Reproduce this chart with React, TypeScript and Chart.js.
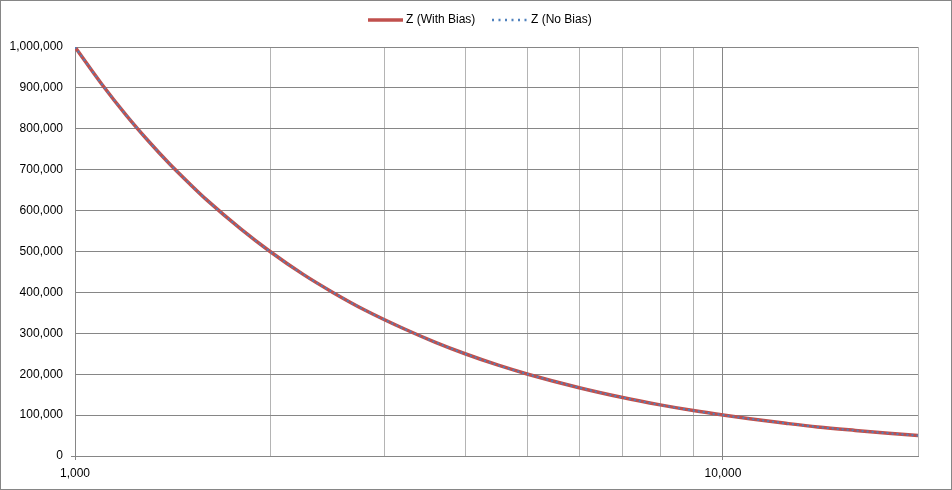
import React, { useEffect, useRef } from "react";
import { Chart, registerables } from "chart.js";

Chart.register(...registerables);

const xValues = [1000, 1100, 1200, 1300, 1400, 1500, 1600, 1800, 2000, 2250, 2500, 2800, 3200, 3600, 4000, 4500, 5000, 6000, 7000, 8000, 9000, 10000, 11000, 12500, 14000, 16000, 18000, 20000];
const withBias = [1000000, 909000, 833000, 769000, 714000, 667000, 625000, 556000, 500000, 444000, 400000, 357000, 313000, 278000, 250000, 222000, 200000, 167000, 143000, 125000, 111000, 100000, 91000, 80000, 71000, 62500, 55600, 50000];
const noBias = [1000000, 909000, 833000, 769000, 714000, 667000, 625000, 556000, 500000, 444000, 400000, 357000, 313000, 278000, 250000, 222000, 200000, 167000, 143000, 125000, 111000, 100000, 91000, 80000, 71000, 62500, 55600, 50000];
const xTickValues = [1000, 2000, 3000, 4000, 5000, 6000, 7000, 8000, 9000, 10000, 20000];
const seriesNames = ["Z (With Bias)", "Z (No Bias)"];
const xMin = 1000;
const xMax = 20000;
const yMin = 0;
const yMax = 1000000;
const yStep = 100000;

const FONT = "'Liberation Sans', Arial, sans-serif";
const RED = "#C0504D";
const BLUE = "#4F81BD";
const GRID_DARK = "#868686";
const GRID_LIGHT = "#B4B4B4";

const isPow10 = (v: number) => {
  const l = Math.log10(v);
  return Math.abs(l - Math.round(l)) < 1e-9;
};

export default function App() {
  const ref = useRef<HTMLCanvasElement | null>(null);

  useEffect(() => {
    if (!ref.current) return;
    const frame = {
      id: "frame",
      beforeDraw(chart: any) {
        const ctx = chart.ctx;
        ctx.save();
        ctx.fillStyle = "#fff";
        ctx.fillRect(0, 0, chart.width, chart.height);
        ctx.restore();
      },
      afterDraw(chart: any) {
        const ctx = chart.ctx;
        ctx.save();
        ctx.strokeStyle = GRID_DARK;
        ctx.lineWidth = 1;
        ctx.strokeRect(0.5, 0.5, chart.width - 1, chart.height - 1);
        // legend
        ctx.font = "12px " + FONT;
        ctx.textBaseline = "middle";
        ctx.fillStyle = "#000";
        const y = 20;
        ctx.lineCap = "butt";
        ctx.strokeStyle = RED;
        ctx.lineWidth = 3.5;
        ctx.beginPath();
        ctx.moveTo(368, y);
        ctx.lineTo(403, y);
        ctx.stroke();
        ctx.fillText(seriesNames[0], 406, y);
        ctx.strokeStyle = BLUE;
        ctx.lineWidth = 2.5;
        ctx.setLineDash([2, 4.5]);
        ctx.beginPath();
        ctx.moveTo(492, y);
        ctx.lineTo(527, y);
        ctx.stroke();
        ctx.setLineDash([]);
        ctx.fillText(seriesNames[1], 531, y);
        ctx.restore();
      },
    };

    const chart = new Chart(ref.current, {
      type: "line",
      data: {
        labels: xValues,
        datasets: [
          {
            label: seriesNames[0],
            data: xValues.map((x, i) => ({ x, y: withBias[i] })),
            borderColor: RED,
            backgroundColor: RED,
            borderWidth: 3.5,
            pointRadius: 0,
            cubicInterpolationMode: "monotone",
            order: 2,
          },
          {
            label: seriesNames[1],
            data: xValues.map((x, i) => ({ x, y: noBias[i] })),
            borderColor: BLUE,
            backgroundColor: BLUE,
            borderWidth: 2,
            borderDash: [2, 3],
            pointRadius: 0,
            cubicInterpolationMode: "monotone",
            order: 1,
          },
        ],
      },
      options: {
        responsive: false,
        animation: false,
        devicePixelRatio: 1,
        layout: { padding: { left: 0, right: 34, top: 47, bottom: 0 } },
        plugins: {
          legend: { display: false },
          tooltip: { enabled: false },
        },
        scales: {
          x: {
            type: "logarithmic",
            min: xMin,
            max: xMax,
            afterBuildTicks: (s: any) => {
              s.ticks = xTickValues.map((v) => ({ value: v, major: isPow10(v) }));
            },
            afterFit: (s: any) => {
              s.height = 34;
            },
            border: { display: true, color: GRID_DARK, width: 1 },
            grid: {
              color: (c: any) => (c.tick && isPow10(c.tick.value) ? GRID_DARK : GRID_LIGHT),
              tickColor: (c: any) => (c.tick && isPow10(c.tick.value) ? GRID_DARK : "rgba(0,0,0,0)"),
              tickLength: 4,
              drawTicks: true,
            },
            ticks: {
              autoSkip: false,
              maxRotation: 0,
              padding: 6,
              color: "#000",
              font: { family: FONT, size: 12 },
              callback: (v: any) => (isPow10(Number(v)) ? Number(v).toLocaleString("en-US") : ""),
            },
          },
          y: {
            min: yMin,
            max: yMax,
            afterFit: (s: any) => {
              s.width = 75;
            },
            border: { display: true, color: GRID_DARK, width: 1 },
            grid: {
              color: GRID_DARK,
              tickColor: (c: any) => (c.tick && c.tick.value === 0 ? GRID_DARK : "rgba(0,0,0,0)"),
              tickLength: 4,
              drawTicks: true,
            },
            ticks: {
              stepSize: yStep,
              padding: 8,
              color: "#000",
              font: { family: FONT, size: 12 },
              callback: (v: any) => Number(v).toLocaleString("en-US"),
            },
          },
        },
      },
      plugins: [frame],
    } as any);
    return () => chart.destroy();
  }, []);

  return (
    <div style={{ position: "absolute", left: 0, top: 0, width: 952, height: 490 }}>
      <canvas ref={ref} width={952} height={490} style={{ display: "block" }} />
    </div>
  );
}
